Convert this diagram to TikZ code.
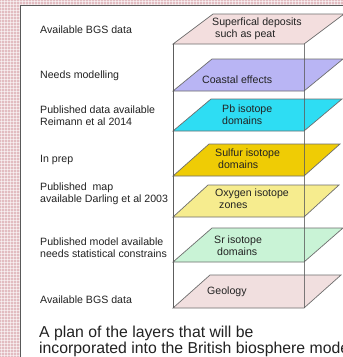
\documentclass[tikz,border=0pt]{standalone}
\usepackage{fontspec}
\setmainfont{Liberation Sans}
\begin{document}
\definecolor{cBack}{HTML}{E2BCC1}
\definecolor{cEdge}{HTML}{6E6E6E}
\definecolor{cInk}{HTML}{222222}
\definecolor{cSup}{HTML}{F3DEDE}
\definecolor{cCoast}{HTML}{B9B5F4}
\definecolor{cPb}{HTML}{2EDDF3}
\definecolor{cSulf}{HTML}{EFCC05}
\definecolor{cOxy}{HTML}{F6EC8E}
\definecolor{cSr}{HTML}{C9F3D6}
\definecolor{cGeo}{HTML}{F1DFDF}
\tikzset{
  slab/.style={draw=cEdge, line width=0.7pt, line join=miter},
  boxline/.style={draw=cEdge!85!black, line width=0.8pt},
  note/.style={font=\fontsize{10.6}{12}\selectfont, text=cInk, inner sep=0pt, anchor=base west},
  tag/.style={font=\fontsize{10.6}{12}\selectfont, text=cInk, inner sep=0pt, anchor=base west},
  caption/.style={font=\fontsize{15.8}{16}\selectfont, text=cInk, inner sep=0pt, anchor=base west}
}
\begin{tikzpicture}[x=1pt, y=-1pt]
\useasboundingbox (0,0) rectangle (343,357);
\clip (0,0) rectangle (343,357);
% checkered frame
\fill[cBack] (0,0) rectangle (343,357);
\foreach \k in {1.5,4.5,...,343} \draw[white, opacity=0.55, line width=0.6pt] (\k,0) -- (\k,357);
\foreach \k in {1.5,4.5,...,357} \draw[white, opacity=0.55, line width=0.6pt] (0,\k) -- (343,\k);
% white panel with its dark edge
\fill[white] (20,5) rectangle (343,357);
\draw[draw=black!65, line width=1pt] (20,357) -- (20,5) -- (343,5);

% layer slabs, from top to bottom
\path[slab, fill=cSup]   (173,44)  -- (304,44)  -- (344,14)  -- (213,14)  -- cycle;
\path[slab, fill=cCoast] (173,91)  -- (304,91)  -- (343,59)  -- (212,59)  -- cycle;
\path[slab, fill=cPb]    (173,131) -- (304,131) -- (342,99)  -- (211,99)  -- cycle;
\path[slab, fill=cSulf]  (173,176) -- (304,176) -- (340,144) -- (209,144) -- cycle;
\path[slab, fill=cOxy]   (173,217) -- (304,217) -- (339,185) -- (208,185) -- cycle;
\path[slab, fill=cSr]    (173,262) -- (304,262) -- (343,228) -- (212,228) -- cycle;
\path[slab, fill=cGeo]   (173,308) -- (304,308) -- (341,275) -- (210,275) -- cycle;

% vertical edges of the stack
\coordinate (tl) at (173,44);
\coordinate (bl) at (173,308);
\coordinate (tr) at (304,44);
\coordinate (br) at (304,308);
\draw[boxline] (tl) -- (bl);
\draw[boxline, opacity=0.8] (tr) -- (br);

% texts on the slabs
\node[tag] (s1a) at (212,25)  {Superfical deposits};
\node[tag] (s1b) at (215,37)  {such as peat};
\node[tag] (s2)  at (202,83)  {Coastal effects};
\node[tag] (s3a) at (222,112) {Pb isotope};
\node[tag] (s3b) at (222,124) {domains};
\node[tag] (s4a) at (215,156) {Sulfur isotope};
\node[tag] (s4b) at (218,168) {domains};
\node[tag] (s5a) at (215,196) {Oxygen isotope};
\node[tag] (s5b) at (219,208) {zones};
\node[tag] (s6a) at (214,243) {Sr isotope};
\node[tag] (s6b) at (217,255) {domains};
\node[tag] (s7)  at (207,294) {Geology};

% status notes on the left
\node[note] (n1)  at (40,33)  {Available BGS data};
\node[note] (n2)  at (40,78)  {Needs modelling};
\node[note] (n3a) at (40,113) {Published data available};
\node[note] (n3b) at (40,125) {Reimann et al 2014};
\node[note] (n4)  at (40,162) {In prep};
\node[note] (n5a) at (40,190) {Published\ \ map};
\node[note] (n5b) at (40,202) {available Darling et al 2003};
\node[note] (n6a) at (40,245) {Published model available};
\node[note] (n6b) at (40,257) {needs statistical constrains};
\node[note] (n7)  at (40,303) {Available BGS data};

% caption
\node[caption] (c1) at (39,337) {A plan of the layers that will be};
\node[caption] (c2) at (39,353) {incorporated into the British biosphere model};
\end{tikzpicture}
\end{document}
